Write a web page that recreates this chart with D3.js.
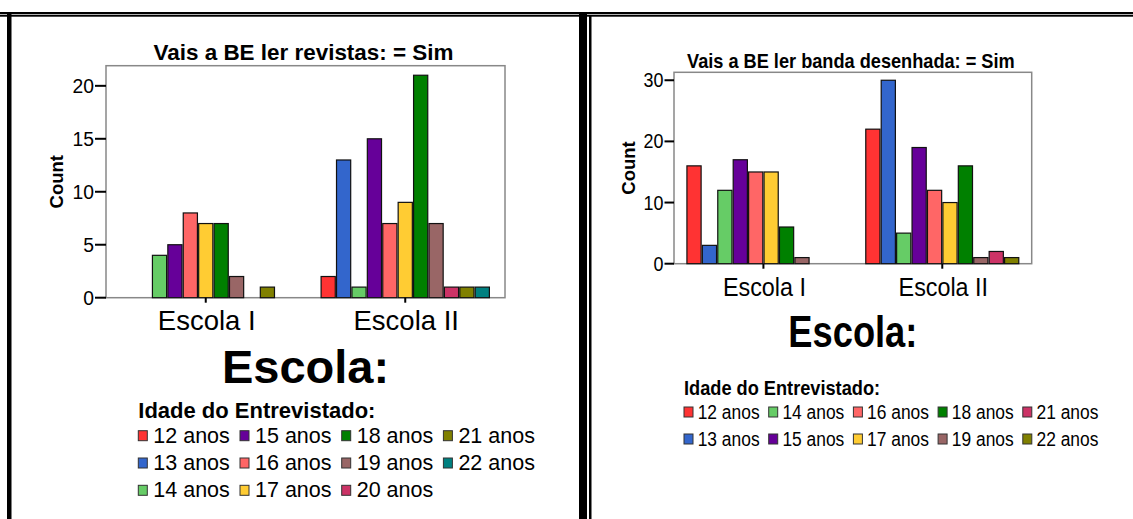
<!DOCTYPE html>
<html>
<head>
<meta charset="utf-8">
<script src="https://cdn.jsdelivr.net/npm/d3@7"></script>
<style>
  body { margin: 0; background: #fff; }
  svg text { font-family: "Liberation Sans", Arial, sans-serif; fill: #000; }
</style>
</head>
<body>
<div id="chart"></div>
<script>
// data
var schools = ["Escola I", "Escola II"];
var palette = ["#ff3333", "#3366cc", "#66cc66", "#660099", "#ff6666", "#ffcc33",
               "#008000", "#996666", "#cc3366", "#808000", "#008080"];

var agesRev = ["12 anos", "13 anos", "14 anos", "15 anos", "16 anos", "17 anos",
               "18 anos", "19 anos", "20 anos", "21 anos", "22 anos"];
var revEscolaI  = [0, 0, 4, 5, 8, 7, 7, 2, 0, 1, 0];
var revEscolaII = [2, 13, 1, 15, 7, 9, 21, 7, 1, 1, 1];
var ticksRev = [0, 5, 10, 15, 20];
var yMaxRev = 21.9;

var agesBD = ["12 anos", "13 anos", "14 anos", "15 anos", "16 anos", "17 anos",
              "18 anos", "19 anos", "21 anos", "22 anos"];
var bdEscolaI  = [16, 3, 12, 17, 15, 15, 6, 1, 0, 0];
var bdEscolaII = [22, 30, 5, 19, 12, 10, 16, 1, 2, 1];
var ticksBD = [0, 10, 20, 30];
var yMaxBD = 31.3;

var W = 1133, H = 519;
var svg = d3.select("#chart").append("svg").attr("width", W).attr("height", H);

// frame lines (double rules like the Word table around the charts)
svg.append("rect").attr("x", 0).attr("y", 12).attr("width", W).attr("height", 2.3).attr("fill", "#000");
svg.append("rect").attr("x", 0).attr("y", 15).attr("width", W).attr("height", 1.7).attr("fill", "#000");
svg.append("rect").attr("x", 7).attr("y", 12).attr("width", 4.5).attr("height", H).attr("fill", "#000");
svg.append("rect").attr("x", 579).attr("y", 12).attr("width", 8).attr("height", H).attr("fill", "#000");
svg.append("rect").attr("x", 589).attr("y", 15).attr("width", 2.5).attr("height", H).attr("fill", "#000");

function txt(g, x, y, s, size, bold, anchor, sx) {
    return g.append("text")
        .attr("transform", "translate(" + x + "," + y + ") scale(" + (sx || 1) + ",1)")
        .attr("text-anchor", anchor || "start")
        .style("font-size", size + "px")
        .style("font-weight", bold ? "bold" : "normal")
        .text(s);
}

function drawPanel(c) {
    var g = svg.append("g");

    var x0 = d3.scaleBand().domain(schools).range([c.left, c.right]);
    var y = d3.scaleLinear().domain([0, c.yMax]).range([c.bottom, c.top]);
    var groupW = c.ages.length * c.step;
    var x1 = d3.scaleBand().domain(c.ages).range([-groupW / 2, groupW / 2]).paddingInner(0.08);

    // plot frame
    g.append("rect")
        .attr("x", c.left).attr("y", c.top)
        .attr("width", c.right - c.left).attr("height", c.bottom - c.top)
        .attr("fill", "none").attr("stroke", "#888").attr("stroke-width", 1.5);

    var rows = [];
    schools.forEach(function (s, si) {
        c.values[si].forEach(function (v, ai) {
            if (v > 0) rows.push({school: s, age: c.ages[ai], idx: ai, value: v});
        });
    });

    g.selectAll("rect.bar").data(rows).enter().append("rect")
        .attr("class", "bar")
        .attr("x", function (d) { return x0(d.school) + x0.bandwidth() / 2 + x1(d.age); })
        .attr("y", function (d) { return y(d.value); })
        .attr("width", x1.bandwidth())
        .attr("height", function (d) { return y(0) - y(d.value); })
        .attr("fill", function (d) { return palette[d.idx]; })
        .attr("stroke", "#111").attr("stroke-width", 1.2);

    // y axis ticks + labels
    c.ticks.forEach(function (t) {
        g.append("line").attr("x1", c.left - c.tickLen).attr("x2", c.left)
            .attr("y1", y(t)).attr("y2", y(t))
            .attr("stroke", "#000").attr("stroke-width", 2);
        txt(g, c.left - c.tickLen - 1, y(t) + c.tickSize * 0.36, t, c.tickSize, false, "end", c.tickSx);
    });

    // x ticks + category labels
    schools.forEach(function (s) {
        var cx = x0(s) + x0.bandwidth() / 2;
        g.append("line").attr("x1", cx).attr("x2", cx)
            .attr("y1", c.bottom).attr("y2", c.bottom + 5)
            .attr("stroke", "#000").attr("stroke-width", 2);
        txt(g, cx + 1, c.catY, s, c.catSize, false, "middle", c.catSx);
    });

    txt(g, (c.left + c.right) / 2 - 2, c.titleY, c.title, c.titleSize, true, "middle", c.titleSx);

    g.append("text")
        .attr("transform", "translate(" + c.countX + "," + ((c.top + c.bottom) / 2) + ") rotate(-90)")
        .attr("text-anchor", "middle")
        .style("font-size", "18.5px").style("font-weight", "bold")
        .text("Count");

    txt(g, (c.left + c.right) / 2, c.axisY, "Escola:", c.axisSize, true, "middle", c.axisSx);

    // legend, filled column by column
    var L = c.legend;
    txt(g, L.x, L.titleY, "Idade do Entrevistado:", L.titleSize, true, "start", L.titleSx);
    c.ages.forEach(function (a, i) {
        var col = Math.floor(i / L.rows), row = i % L.rows;
        var lx = L.x + col * L.colW, ly = L.rowY + row * L.rowH;
        g.append("rect").attr("x", lx).attr("y", ly - 12).attr("width", 9).attr("height", 10)
            .attr("fill", palette[i]).attr("stroke", "#333").attr("stroke-width", 1);
        txt(g, lx + L.textDx, ly, a, L.size, false, "start", L.sx);
    });
}

drawPanel({
    ages: agesRev, values: [revEscolaI, revEscolaII], ticks: ticksRev, yMax: yMaxRev,
    left: 106, right: 505, top: 65.7, bottom: 297.7, step: 15.3,
    tickLen: 11, tickSize: 21, tickSx: 0.92,
    catY: 330, catSize: 27.5, catSx: 1,
    title: "Vais a BE ler revistas: = Sim", titleY: 60, titleSize: 22, titleSx: 1.02,
    countX: 63,
    axisY: 382.7, axisSize: 47, axisSx: 1,
    legend: {x: 138.3, titleY: 418.3, titleSize: 22, titleSx: 1,
             rowY: 442.7, rowH: 27.3, rows: 3, colW: 101.7, textDx: 15, size: 21.5, sx: 1}
});

drawPanel({
    ages: agesBD, values: [bdEscolaI, bdEscolaII], ticks: ticksBD, yMax: yMaxBD,
    left: 674, right: 1031.7, top: 72.3, bottom: 263.7, step: 15.3,
    tickLen: 9.5, tickSize: 19.5, tickSx: 0.92,
    catY: 295.7, catSize: 26.5, catSx: 0.88,
    title: "Vais a BE ler banda desenhada: = Sim", titleY: 68.3, titleSize: 21, titleSx: 0.866,
    countX: 635,
    axisY: 347.3, axisSize: 45, axisSx: 0.806,
    legend: {x: 684, titleY: 395, titleSize: 20, titleSx: 0.91,
             rowY: 419, rowH: 27, rows: 2, colW: 84.7, textDx: 13.7, size: 20, sx: 0.87}
});
</script>
</body>
</html>
